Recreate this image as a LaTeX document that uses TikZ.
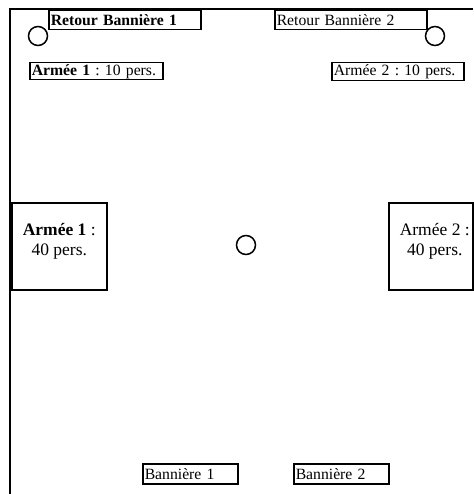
\documentclass[tikz,border=0pt]{standalone}
\usepackage{fontspec}
\setmainfont{Liberation Serif}
\usepackage{tikz}
\usetikzlibrary{positioning}
\usetikzlibrary{calc}
\frenchspacing

\begin{document}
\begin{tikzpicture}[
    x=1pt, y=-1pt,
    font=\fontsize{15.7pt}{19pt}\selectfont,
    % boxes with a single line of text (left aligned)
    cadre/.style={rectangle, draw, line width=1.5pt, inner xsep=2pt, inner ysep=0pt, anchor=north west, align=left},
    % big boxes for the armies
    camp/.style={rectangle, draw, line width=1.5pt, inner sep=0pt, anchor=north west},
    grand/.style={align=center, inner sep=0pt, font=\fontsize{17.5pt}{19.5pt}\selectfont},
    % flags (small circles)
    drapeau/.style={circle, draw, line width=1.5pt, minimum size=19pt, inner sep=0pt},
    bord/.style={draw, line width=1.5pt},
]
\useasboundingbox (0,0) rectangle (473,494);

% =========================================================
% field border (left and top only)
% =========================================================
\coordinate (coinBas) at (10,494);
\coordinate (coinHaut) at (10,9);
\coordinate (coinDroit) at (473,9);
\draw[bord] (coinBas) -- (coinHaut) -- (coinDroit);

% =========================================================
% top: banner returns and small armies
% =========================================================
\node[cadre, text width=148pt, minimum height=19pt] (retB1) at (48,10) {\textbf{Retour Bannière 1}};
\node[cadre, text width=148pt, minimum height=19pt] (retB2) at (274,10) {Retour Bannière 2};

\node[drapeau] (c1) at (38,36) {};
\node[drapeau] (c2) at (435,36) {};

\node[cadre, text width=129pt, minimum height=17pt] (arm1s) at (29,62) {\textbf{Armée 1} : 10 pers.};
\node[cadre, text width=128pt, minimum height=18pt] (arm2s) at (331,62) {Armée 2 : 10 pers.};

% =========================================================
% middle: main armies and centre flag
% =========================================================
\node[camp, minimum width=95pt, minimum height=87pt] (arm1) at (11,202) {};
\node[camp, minimum width=84pt, minimum height=87pt] (arm2) at (388,202) {};

\node[grand] (arm1t) at ([yshift=5pt]arm1.center) {\textbf{Armée 1} :\\40 pers.};
\node[grand] (arm2t) at ([xshift=4pt,yshift=5pt]arm2.center) {Armée 2 :\\40 pers.};

\node[drapeau] (c0) at (246,245) {};

% =========================================================
% bottom: banners
% =========================================================
\node[cadre, text width=91pt, minimum height=20pt] (ban1) at (142,463) {Bannière 1};
\node[cadre, text width=91pt, minimum height=20pt] (ban2) at (293,463) {Bannière 2};

\end{tikzpicture}
\end{document}
